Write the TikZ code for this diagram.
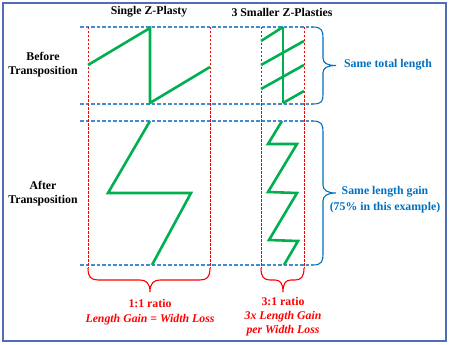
\documentclass[tikz,border=0pt]{standalone}
\usepackage{fontspec}
\setmainfont{Liberation Serif}
\definecolor{zgreen}{RGB}{0,176,80}
\definecolor{zred}{RGB}{255,0,0}
\definecolor{zblue}{RGB}{0,112,192}
\definecolor{lblue}{RGB}{70,140,205}
\definecolor{frame}{RGB}{79,110,180}
\begin{document}
\begin{tikzpicture}[x=1pt,y=-1pt,
  zline/.style={draw=zgreen,line width=2.6pt,line join=miter},
  redv/.style={draw=zred,line width=0.9pt,dash pattern=on 2.5pt off 1.5pt},
  blueh/.style={draw=lblue,line width=1.1pt,dash pattern=on 3.5pt off 2pt},
  bbrace/.style={draw=zblue,line width=1.1pt},
  rbrace/.style={draw=zred,line width=1.1pt},
  lbl/.style={font=\fontsize{11.8}{14}\selectfont\bfseries,align=center,inner sep=0pt},
  bluelbl/.style={lbl,text=zblue},
  redlbl/.style={lbl,text=zred}]
\useasboundingbox (0,0) rectangle (450,345);
\draw[frame,line width=1.4pt] (3,3) rectangle (446,341);
% headings
\node[lbl] (h1) at (149,12) {Single Z-Plasty};
\node[lbl] (h2) at (282,12) {3 Smaller Z-Plasties};
\node[lbl] (bt) at (43,65) {Before\\Transposition};
\node[lbl] (at) at (43,194) {After\\Transposition};
% blue dashed horizontals
\draw[blueh] (80,27) -- (313,27);
\draw[blueh] (80,104) -- (313,104);
\draw[blueh] (80,121) -- (313,121);
\draw[blueh] (80,265) -- (313,265);
% red dashed verticals
\draw[redv] (88,27) -- (88,268);
\draw[redv] (210,27) -- (210,268);
\draw[redv] (261,27) -- (261,268);
\draw[redv] (304,27) -- (304,268);
% green before single
\draw[zline] (88,65) -- (150,28) -- (150,103) -- (210,67);
% green before small
\draw[zline] (283,27) -- (283,103);
\draw[zline] (261,41) -- (283,27);
\draw[zline] (261,65) -- (304,41);
\draw[zline] (261,89) -- (304,65);
\draw[zline] (283,103) -- (304,91);
% green after single
\draw[zline] (150,121) -- (108,193) -- (191,193) -- (152,265);
% green after small
\draw[zline] (282,121) -- (268,144) -- (297,144) -- (268,192) -- (297,193) -- (269,240) -- (298,241) -- (284,265);
% blue braces
\draw[bbrace] (313,27) .. controls (322,27) and (323,31) .. (323,38) -- (323,58)
  .. controls (323,63) and (327,65.5) .. (336,65.5)
  .. controls (327,65.5) and (323,68) .. (323,73) -- (323,94)
  .. controls (323,101) and (322,104) .. (313,104);
\draw[bbrace] (313,121) .. controls (322,121) and (323,125) .. (323,132) -- (323,185)
  .. controls (323,190) and (327,193) .. (336,193)
  .. controls (327,193) and (323,196) .. (323,201) -- (323,254)
  .. controls (323,261) and (322,265) .. (313,265);
% red braces
\draw[rbrace] (88,268) .. controls (88,277) and (91,280) .. (98,280) -- (140,280)
  .. controls (146,280) and (150,283) .. (150,292)
  .. controls (150,283) and (154,280) .. (160,280) -- (200,280)
  .. controls (207,280) and (210,277) .. (210,268);
\draw[rbrace] (261,268) .. controls (261,277) and (264,280) .. (270,280) -- (275,280)
  .. controls (280,280) and (283,283) .. (283,292)
  .. controls (283,283) and (286,280) .. (291,280) -- (295,280)
  .. controls (301,280) and (304,277) .. (304,268);
% blue labels
\node[bluelbl] (l1) at (388,65) {Same total length};
\node[bluelbl] (l2) at (385,200) {Same length gain\\[2pt](75\% in this example)};
% red labels
\node[redlbl] (r1) at (150,312) {1:1 ratio\\[1pt]\itshape Length Gain = Width Loss};
\node[redlbl] (r2) at (283,317) {3:1 ratio\\\itshape 3x Length Gain\\\itshape per Width Loss};
\end{tikzpicture}
\end{document}
